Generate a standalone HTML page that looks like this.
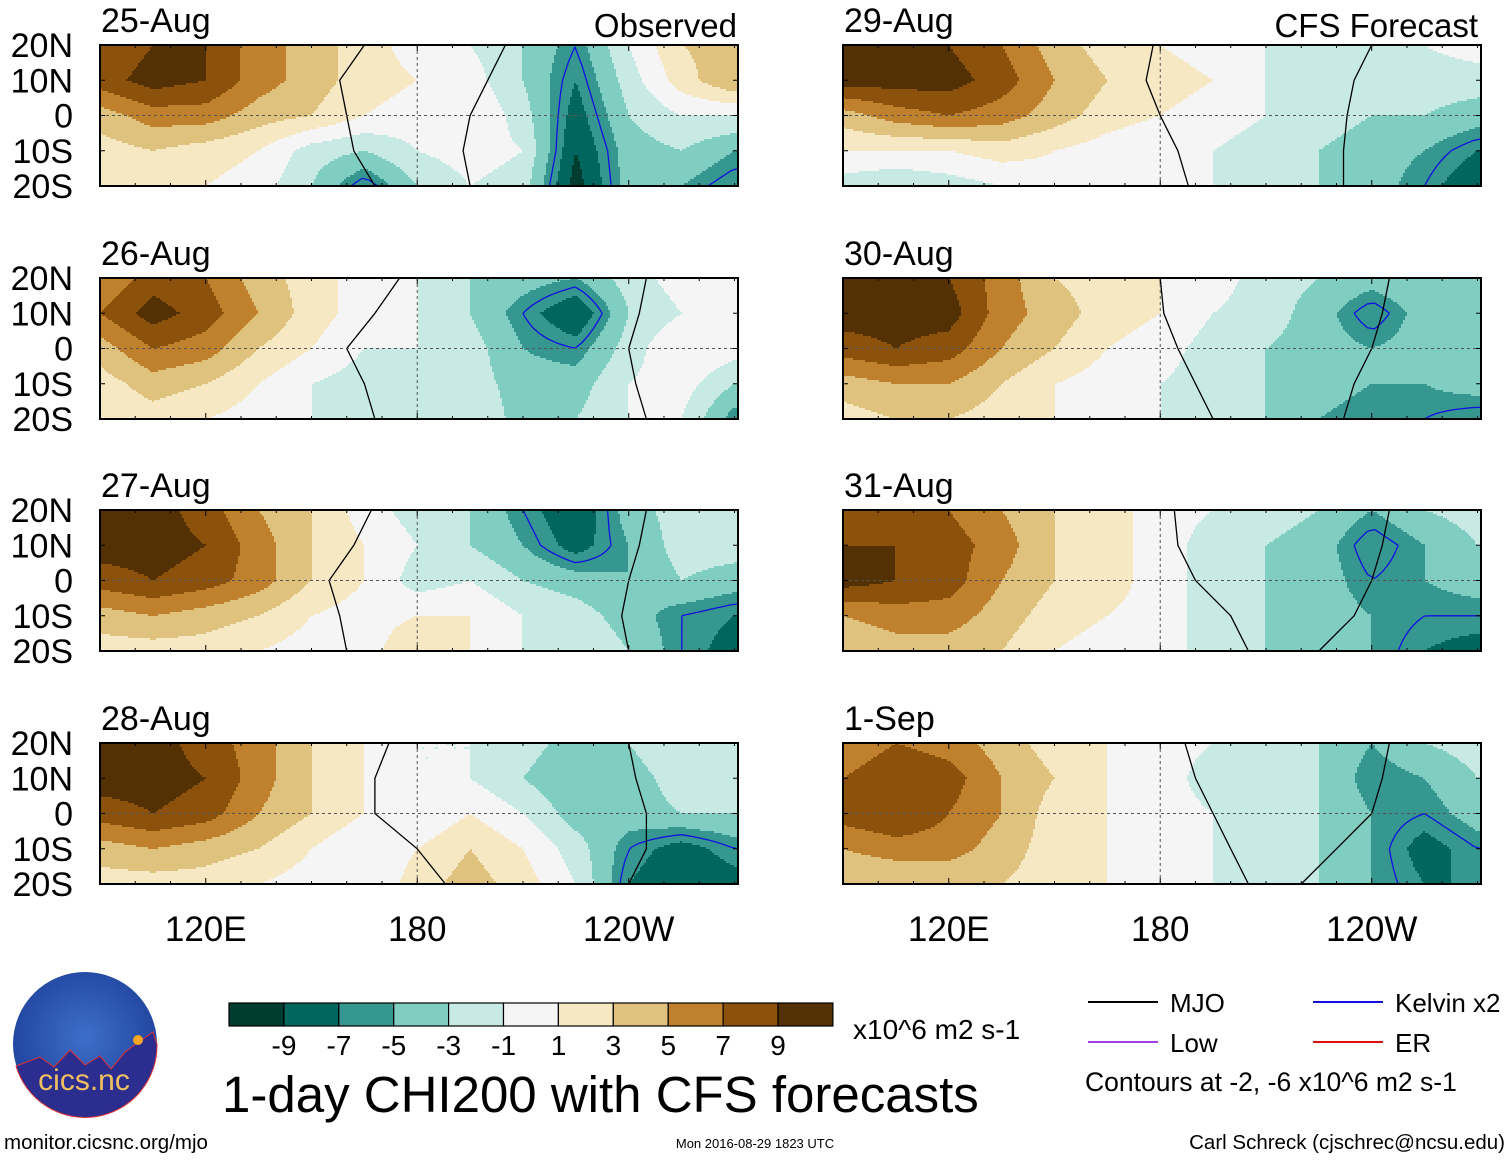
<!DOCTYPE html>
<html><head><meta charset="utf-8">
<style>
html,body{margin:0;padding:0;background:#fff;}
body{width:1510px;height:1158px;overflow:hidden;font-family:"Liberation Sans",Arial,sans-serif;}
svg text{font-family:"Liberation Sans",Arial,sans-serif;}
</style></head>
<body>
<svg id="chart" width="1510" height="1158" viewBox="0 0 1510 1158" xmlns="http://www.w3.org/2000/svg"></svg>
<script>
// ---- data ----
const lons = [90,105,120,135,150,165,180,195,210,225,240,255,270];
const lats = [20,10,0,-10,-20];
const panelDates = ["25-Aug","26-Aug","27-Aug","28-Aug","29-Aug","30-Aug","31-Aug","1-Sep"];
const levels = [-9,-7,-5,-3,-1,1,3,5,7,9];
const levelColors = ["#003c30","#01665e","#35978f","#80cdc1","#c7eae5","#f5f5f5","#f6e8c3","#dfc27d","#bf812d","#8c510a","#543005"];
const xTickLabels = ["120E","180","120W"];
const xTickLons = [120,180,240];
const yTickLabels = ["20N","10N","0","10S","20S"];
const legendNames = ["MJO","Kelvin x2","Low","ER"];
const field0 = [[7,9,9,6,4,2,0,-1,-3,-6,-1,3,4],[8,10,9,6,4,2,1,0,-3,-7,-2,2,5],[4,6,6,4,3,1,0,1,-2,-8,-3,-1,-1],[2,3,2,1,-2,-3,-1,0,-1,-9,-4,-3,-5],[1,1,1,0,-3,-7,-3,-1,-2,-10,-4,-5,-7]];
const field1 = [[5,8,7,4,2,0,-1,-3,-4,-5,-2,0,1],[7,10,8,5,2,0,-1,-3,-6,-9,-3,-1,-1],[4,7,6,3,1,-1,-1,-2,-5,-6,-2,1,0],[2,4,3,1,-1,-2,-1,-2,-4,-4,-1,0,-3],[1,2,1,0,-1,-2,-1,-1,-4,-3,-1,-1,-6]];
const field2 = [[9,10,8,5,3,0,-2,-3,-6,-9,-4,-2,-1],[10,10,9,6,3,1,-1,-3,-5,-8,-5,-2,-2],[8,9,8,6,3,1,-2,-1,-3,-4,-5,-3,-4],[4,5,4,3,1,0,1,1,-1,-2,-4,-6,-7],[2,2,2,1,0,0,3,1,-1,-1,-3,-6,-8]];
const field3 = [[9,10,8,6,3,1,-1,-1,-2,-4,-3,-1,-1],[10,10,9,6,3,1,-1,-1,-3,-5,-4,-2,-2],[8,9,8,5,3,1,-1,1,-1,-4,-4,-3,-3],[4,5,4,3,1,-1,1,3,1,-2,-6,-8,-6],[2,2,2,1,0,-1,2,4,2,-1,-7,-9,-8]];
const field4 = [[10,10,9,7,4,2,1,0,-1,-2,-2,-1,0],[10,10,10,8,5,3,2,1,-1,-2,-3,-2,-2],[4,6,7,6,4,2,1,0,-1,-2,-3,-3,-4],[1,1,1,2,1,0,-1,-1,-2,-3,-4,-5,-7],[-2,-3,-2,-1,0,-1,-1,-1,-2,-3,-4,-6,-9]];
const field5 = [[9,10,9,6,3,2,1,0,-2,-3,-4,-3,-3],[10,10,10,6,4,2,1,-1,-2,-4,-7,-4,-3],[8,9,8,5,3,1,0,-2,-3,-4,-5,-4,-3],[4,5,5,3,1,0,-1,-2,-3,-4,-5,-5,-4],[2,3,3,2,1,0,-1,-2,-3,-5,-6,-6,-7]];
const field6 = [[7,8,7,5,3,2,0,-1,-2,-3,-5,-3,-2],[9,9,8,6,3,2,0,-2,-3,-4,-7,-5,-3],[10,9,8,5,3,2,0,-2,-3,-4,-6,-5,-4],[5,6,6,4,2,1,0,-2,-3,-4,-5,-6,-6],[3,4,4,3,1,0,0,-2,-3,-4,-5,-7,-8]];
const field7 = [[5,7,6,4,2,1,0,-1,-2,-3,-5,-3,-2],[7,9,8,5,3,1,0,-2,-2,-3,-6,-5,-3],[8,9,7,5,2,1,0,-1,-2,-3,-5,-6,-4],[5,6,6,4,2,1,0,-1,-2,-3,-5,-8,-6],[3,3,3,3,2,1,0,-1,-2,-3,-5,-7,-7]];
const fields = [field0,field1,field2,field3,field4,field5,field6,field7];
const mjo0 = [[165,158,160,162,168],[205,200,195,193,195]];
const mjo1 = [[175,168,160,165,168],[245,243,240,242,245]];
const mjo2 = [[167,162,155,158,160],[245,243,240,238,240]];
const mjo3 = [[172,168,168,180,188],[240,242,245,245,240]];
const mjo4 = [[178,176,180,185,188],[240,235,233,232,232]];
const mjo5 = [[180,181,185,190,195],[245,243,240,235,232]];
const mjo6 = [[184,185,190,200,205],[245,243,240,235,225]];
const mjo7 = [[187,190,195,200,205],[245,243,240,230,220]];
const mjoLines = [mjo0,mjo1,mjo2,mjo3,mjo4,mjo5,mjo6,mjo7];

// ---- layout ----
const svg = document.getElementById('chart');
const NS = 'http://www.w3.org/2000/svg';
const panelX = [100,843];
const panelY = [45,278,510,743];
const PW = 638, PH = 141;
const lonMin = 90, lonMax = 271;
function el(tag, attrs, parent){const e=document.createElementNS(NS,tag);for(const k in attrs)e.setAttribute(k,attrs[k]);(parent||svg).appendChild(e);return e;}
function colorFor(v){let i=0;while(i<levels.length && v>=levels[i])i++;return levelColors[i];}
function interp(f, lon, lat){
  let fi=(lon-lons[0])/15; fi=Math.max(0,Math.min(lons.length-1.0001,fi));
  let fj=(20-lat)/10; fj=Math.max(0,Math.min(lats.length-1.0001,fj));
  const i=Math.floor(fi), j=Math.floor(fj), a=fi-i, b=fj-j;
  return f[j][i]*(1-a)*(1-b)+f[j][i+1]*a*(1-b)+f[j+1][i]*(1-a)*b+f[j+1][i+1]*a*b;
}

fields.forEach((f,p)=>{
  const col = p<4?0:1, row = p%4;
  const x0 = panelX[col], y0 = panelY[row];
  const xs = lon => x0 + (lon-lonMin)/(lonMax-lonMin)*PW;
  const ys = lat => y0 + (20-lat)/40*PH;
  const g = el('g',{});
  
  
  const step=2;
  for(let py=0; py<PH; py+=step){
    const lat = 20 - (py+step/2)/PH*40;
    const hh = Math.min(step, PH-py);
    let runStart=0, runColor=null;
    let px=0;
    while(true){
      const done = px>=PW;
      const c = done ? null : colorFor(interp(f, lonMin+(px+step/2)/PW*(lonMax-lonMin), lat));
      if(c!==runColor){
        if(runColor){const r=el('rect',{x:x0+runStart,y:y0+py,width:Math.min(px,PW)-runStart+0.6,height:hh+0.6,fill:runColor},g);
          
          }
        runStart=px; runColor=c;
      }
      if(done) break;
      px+=step;
    }
  }
  // -6 contour via marching squares
  const nx=90, ny=28, lv=-6;
  let d='';
  for(let j=0;j<ny;j++)for(let i=0;i<nx;i++){
    const L0=lonMin+i/nx*(lonMax-lonMin), L1=lonMin+(i+1)/nx*(lonMax-lonMin);
    const A0=20-j/ny*40, A1=20-(j+1)/ny*40;
    const v=[interp(f,L0,A0),interp(f,L1,A0),interp(f,L1,A1),interp(f,L0,A1)];
    const P=[[L0,A0],[L1,A0],[L1,A1],[L0,A1]];
    const pts=[];
    for(let k=0;k<4;k++){const a=v[k],b=v[(k+1)%4];if((a<lv)!==(b<lv)){const t=(lv-a)/(b-a);const pa=P[k],pb=P[(k+1)%4];pts.push([pa[0]+t*(pb[0]-pa[0]),pa[1]+t*(pb[1]-pa[1])]);}}
    if(pts.length>=2) d+='M'+xs(pts[0][0]).toFixed(1)+','+ys(pts[0][1]).toFixed(1)+'L'+xs(pts[1][0]).toFixed(1)+','+ys(pts[1][1]).toFixed(1);
    if(pts.length===4) d+='M'+xs(pts[2][0]).toFixed(1)+','+ys(pts[2][1]).toFixed(1)+'L'+xs(pts[3][0]).toFixed(1)+','+ys(pts[3][1]).toFixed(1);
  }
  const kc=el('path',{d:d,stroke:'#1010e0','stroke-width':1.3,fill:'none'},g);
  
  
  mjoLines[p].forEach(line=>{
    const dd=line.map((lo,k)=>(k?'L':'M')+xs(lo).toFixed(1)+','+ys(lats[k]).toFixed(1)).join('');
    const m=el('path',{d:dd,stroke:'#000','stroke-width':1.3,fill:'none'},g);
    
    
  });
  el('line',{x1:x0,x2:x0+PW,y1:ys(0),y2:ys(0),stroke:'#555','stroke-dasharray':'3,3','stroke-width':1},g);
  el('line',{x1:xs(180),x2:xs(180),y1:y0,y2:y0+PH,stroke:'#555','stroke-dasharray':'3,3','stroke-width':1},g);
  el('rect',{x:x0,y:y0,width:PW,height:PH,fill:'none',stroke:'#000','stroke-width':2},g);
  for(let lo=100;lo<=270;lo+=10){const tx=xs(lo);const big=(lo%60===0);
    el('line',{x1:tx,x2:tx,y1:y0,y2:y0+(big?6:3),stroke:'#000','stroke-width':1},g);
    el('line',{x1:tx,x2:tx,y1:y0+PH,y2:y0+PH-(big?6:3),stroke:'#000','stroke-width':1},g);}
  lats.forEach(la=>{const ty=ys(la);
    el('line',{x1:x0,x2:x0+5,y1:ty,y2:ty,stroke:'#000'},g);
    el('line',{x1:x0+PW,x2:x0+PW-5,y1:ty,y2:ty,stroke:'#000'},g);});
  const t=el('text',{x:x0+1,y:y0-13,'font-size':34,fill:'#000'});t.textContent=panelDates[p];
  
  
  if(col===0){
    yTickLabels.forEach((lab,k)=>{const yt=el('text',{x:73,y:ys(lats[k])+12,'font-size':34,'text-anchor':'end'});yt.textContent=lab;
      
      });
  }
  if(row===3){
    xTickLabels.forEach((lab,k)=>{const xt=el('text',{x:xs(xTickLons[k]),y:941,'font-size':35,'text-anchor':'middle'});xt.textContent=lab;
      
      });
  }
});
let h=el('text',{x:737,y:37,'font-size':33,'text-anchor':'end'});h.textContent='Observed';


h=el('text',{x:1478,y:37,'font-size':33,'text-anchor':'end'});h.textContent='CFS Forecast';



const cb=el('g',{});


levelColors.forEach((c,i)=>{el('rect',{x:229+i*54.9,y:1003,width:54.9,height:23,fill:c,stroke:'#000','stroke-width':1.2},cb);});
levels.forEach((lv,i)=>{const t=el('text',{x:284+i*54.9,y:1055,'font-size':28,'text-anchor':'middle'},cb);t.textContent=lv;});
let t=el('text',{x:853,y:1039,'font-size':28});t.textContent='x10^6 m2 s-1';


t=el('text',{x:222,y:1112,'font-size':51});t.textContent='1-day CHI200 with CFS forecasts';



const lg=el('g',{});


const legPos=[[1088,1002,'#000'],[1313,1002,'#1010e0'],[1088,1042,'#a040e0'],[1313,1042,'#e01010']];
legendNames.forEach((n,i)=>{const [lx,ly,c]=legPos[i];
  el('line',{x1:lx,x2:lx+70,y1:ly,y2:ly,stroke:c,'stroke-width':2},lg);
  const tt=el('text',{x:lx+82,y:ly+10,'font-size':26},lg);tt.textContent=n;});
t=el('text',{x:1085,y:1091,'font-size':26.5});t.textContent='Contours at -2, -6 x10^6 m2 s-1';



t=el('text',{x:4,y:1149,'font-size':20.5});t.textContent='monitor.cicsnc.org/mjo';


t=el('text',{x:755,y:1148,'font-size':13,'text-anchor':'middle'});t.textContent='Mon 2016-08-29 1823 UTC';


t=el('text',{x:1505,y:1149,'font-size':20.5,'text-anchor':'end'});t.textContent='Carl Schreck (cjschrec@ncsu.edu)';



const lo=el('g',{});


const defs=el('defs',{});
const rg=el('radialGradient',{id:'lg1',cx:'0.5',cy:'0.45',r:'0.6'},defs);
el('stop',{offset:'0','stop-color':'#3d6fc8'},rg);el('stop',{offset:'1','stop-color':'#1d3f9a'},rg);
el('circle',{cx:85,cy:1044,r:72,fill:'url(#lg1)'},lo);
el('path',{d:'M16,1066 L40,1057 L54,1067 L70,1050 L85,1065 L100,1056 L111,1069 L125,1052 L153,1032 L157,1044 A72,72 0 0 1 16,1066 Z',fill:'#2b2e8f',stroke:'#d33','stroke-width':1},lo);
el('circle',{cx:138,cy:1040,r:5,fill:'#f6a623'},lo);
const lt=el('text',{x:84,y:1090,'font-size':30,'text-anchor':'middle',fill:'#f0c060'},lo);lt.textContent='cics.nc';
</script>
</body></html>
